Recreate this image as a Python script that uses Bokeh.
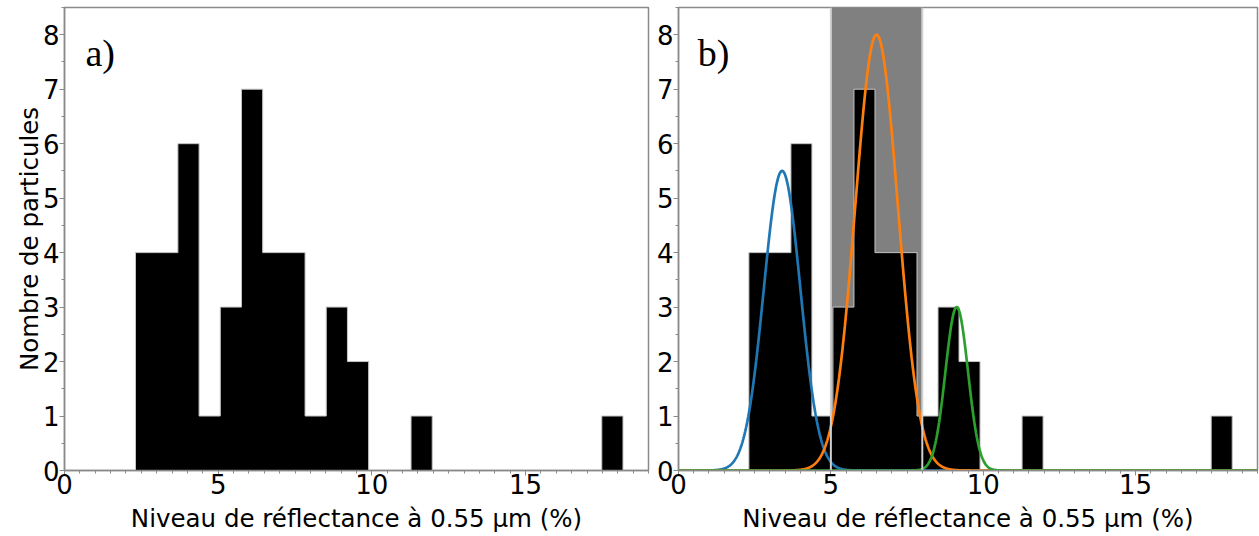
import numpy as np
from bokeh.plotting import figure
from bokeh.layouts import row
from bokeh.models import Range1d, SingleIntervalTicker, Label, BoxAnnotation, Span
from bokeh.embed import file_html
from bokeh.resources import INLINE

# ---- data ----
hist_lo = 2.31          # left edge of the first bin
hist_hi = 18.17         # right edge of the last bin
counts = [4, 4, 6, 1, 3, 7, 4, 4, 1, 3, 2, 0, 0, 1, 0, 0, 0, 0, 0, 0, 0, 0, 1]

gauss_centers = [3.40, 6.50, 9.13]
gauss_amps = [5.5, 8.0, 3.0]
gauss_sigmas = [0.60, 0.70, 0.37]
gauss_colors = ["#1f77b4", "#ff7f0e", "#2ca02c"]

span_range = [5.0, 8.0]

x_limits = [0, 19]
y_limits = [0, 8.5]
x_ticks_interval = 5
y_ticks_interval = 1

panel_labels = ["a)", "b)"]
x_title = "Niveau de réflectance à 0.55 µm (%)"
y_title = "Nombre de particules"

# ---- derived ----
n_bins = len(counts)
edges = np.linspace(hist_lo, hist_hi, n_bins + 1)
step_x = [edges[0]]
step_y = [0]
for i, c in enumerate(counts):
    step_x += [edges[i], edges[i + 1]]
    step_y += [c, c]
step_x.append(edges[-1])
step_y.append(0)

AXIS_COL = "#8a8a8a"
FONT = "DejaVu Sans"


def make_fig(width, border_left, with_ylabel):
    p = figure(width=width, height=535, output_backend="svg", toolbar_location=None,
               x_range=Range1d(*x_limits), y_range=Range1d(*y_limits),
               min_border_left=border_left, min_border_right=2,
               min_border_top=7, min_border_bottom=62)
    p.xgrid.visible = False
    p.ygrid.visible = False
    p.outline_line_color = AXIS_COL
    p.outline_line_width = 1.5
    p.background_fill_color = "white"
    p.border_fill_color = "white"

    p.xaxis.ticker = SingleIntervalTicker(interval=x_ticks_interval, num_minor_ticks=10)
    p.yaxis.ticker = SingleIntervalTicker(interval=y_ticks_interval, num_minor_ticks=2)
    for ax in (p.xaxis, p.yaxis):
        ax.axis_line_color = AXIS_COL
        ax.axis_line_width = 1.5
        ax.major_tick_line_color = AXIS_COL
        ax.minor_tick_line_color = AXIS_COL
        ax.major_tick_out = 5
        ax.major_tick_in = 0
        ax.minor_tick_out = 3
        ax.minor_tick_in = 0
        ax.major_label_text_font = FONT
        ax.major_label_text_font_size = "26px"
        ax.major_label_text_color = "black"
        ax.axis_label_text_font = FONT
        ax.axis_label_text_font_size = "24.5px"
        ax.axis_label_text_font_style = "normal"
        ax.axis_label_text_color = "black"
    p.xaxis.major_label_standoff = -2
    p.xaxis.axis_label_standoff = 7
    p.yaxis.major_label_standoff = 0
    p.yaxis.axis_label_standoff = -4
    p.xaxis.axis_label = x_title
    if with_ylabel:
        p.yaxis.axis_label = y_title
    return p


def draw_hist(p):
    p.patch(step_x, step_y, fill_color="black", line_color="#c4c4c4", line_width=1)


# Panel a
pa = make_fig(650, 64, True)
draw_hist(pa)
pa.add_layout(Label(x=0.68, y=7.67, text=panel_labels[0], text_font="Liberation Serif",
                    text_font_size="38px", text_color="black", text_baseline="alphabetic"))

# Panel b
pb = make_fig(609, 28, False)
pb.add_layout(BoxAnnotation(left=span_range[0], right=span_range[1], fill_color="#808080",
                            fill_alpha=1.0, line_color=None, level="underlay"))
draw_hist(pb)
for loc in span_range:
    pb.add_layout(Span(location=loc, dimension="height", line_color="#d0d0d0", line_width=2,
                       level="glyph"))
xs = np.linspace(x_limits[0], x_limits[1], 1901)
for mu, amp, sig, col in zip(gauss_centers, gauss_amps, gauss_sigmas, gauss_colors):
    pb.line(xs, amp * np.exp(-0.5 * ((xs - mu) / sig) ** 2), line_color=col, line_width=2.7)
pb.add_layout(Label(x=0.63, y=7.67, text=panel_labels[1], text_font="Liberation Serif",
                    text_font_size="38px", text_color="black", text_baseline="alphabetic"))

layout = row(pa, pb)
open("out.html", "w").write(file_html(layout, INLINE))
